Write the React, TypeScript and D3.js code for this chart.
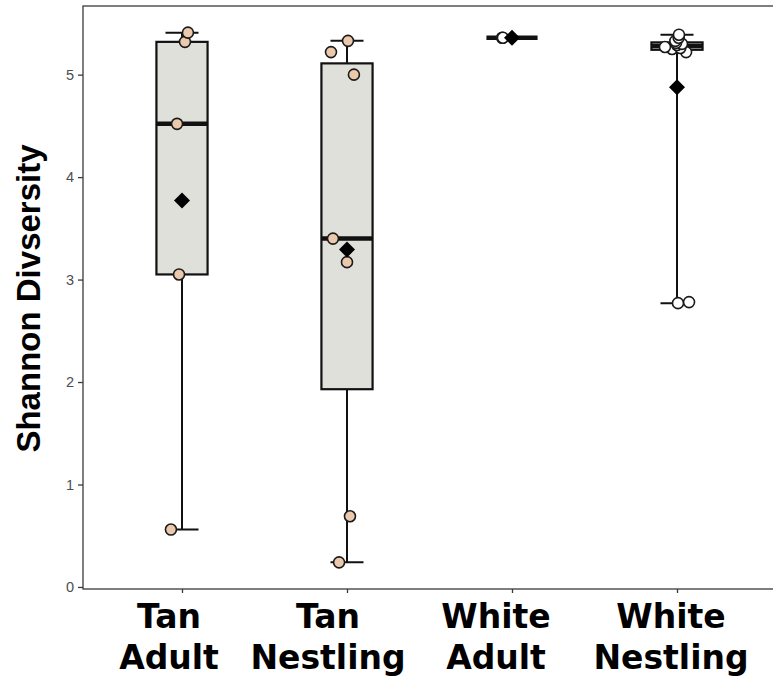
import { useEffect, useRef } from 'react';
import * as d3 from 'd3';

const categories = ['Tan Adult', 'Tan Nestling', 'White Adult', 'White Nestling'];
const labelLines = [['Tan', 'Adult'], ['Tan', 'Nestling'], ['White', 'Adult'], ['White', 'Nestling']];
const groupType = ['tan', 'tan', 'white', 'white'];

const tanAdult = [0.56, 3.05, 4.52, 5.32, 5.41];
const tanAdultJitter = [-0.067, -0.018, -0.03, 0.018, 0.036];
const tanNestling = [0.24, 0.69, 3.17, 3.4, 5.0, 5.22, 5.33];
const tanNestlingJitter = [-0.048, 0.018, 0.0, -0.085, 0.042, -0.097, 0.006];
const whiteAdult = [5.36, 5.36];
const whiteAdultJitter = [-0.06, -0.055];
const whiteNestling = [2.77, 2.78, 5.22, 5.25, 5.26, 5.27, 5.29, 5.3, 5.31, 5.33, 5.36, 5.39];
const whiteNestlingJitter = [0.006, 0.073, 0.055, -0.03, 0.02, -0.073, 0.0, 0.03, -0.006, -0.01, 0.01, 0.012];

const yTicks = [0, 1, 2, 3, 4, 5];

const groups = [tanAdult, tanNestling, whiteAdult, whiteNestling];
const jitters = [tanAdultJitter, tanNestlingJitter, whiteAdultJitter, whiteNestlingJitter];

// labels sit a little left of their ticks in the original
const labelShift = [-13, -19, -16, -6];

const App = () => {
  const svgRef = useRef<SVGSVGElement | null>(null);

  useEffect(() => {
    const svg = d3.select(svgRef.current);
    svg.selectAll('*').remove();

    const left = 83;
    const top = 6;
    const bottom = 589;

    const x = d3.scalePoint<string>().domain(categories).range([left, 776]).padding(0.6);
    const step = x.step();
    const y = d3.scaleLinear().domain([-0.02, 5.67]).range([bottom, top]);

    // panel border / axes
    svg.append('rect')
      .attr('x', left).attr('y', top)
      .attr('width', 776 - left).attr('height', bottom - top)
      .attr('fill', 'white')
      .attr('stroke', '#3a3a3a')
      .attr('stroke-width', 1.3);

    const yAxis = svg.append('g')
      .attr('transform', `translate(${left},0)`)
      .call(d3.axisLeft(y).tickValues(yTicks).tickSize(5).tickPadding(4).tickFormat(d3.format('d')));
    yAxis.select('.domain').remove();
    yAxis.selectAll('line').attr('stroke', '#3a3a3a').attr('stroke-width', 1.3);
    yAxis.selectAll('text')
      .attr('fill', '#4d4d4d')
      .style('font-family', '"Liberation Sans", Arial, sans-serif')
      .style('font-size', '14.5px');

    const xAxis = svg.append('g')
      .attr('transform', `translate(0,${bottom})`)
      .call(d3.axisBottom(x).tickSize(4).tickFormat(() => ''));
    xAxis.select('.domain').remove();
    xAxis.selectAll('line').attr('stroke', '#3a3a3a').attr('stroke-width', 1.3);

    // x labels
    categories.forEach((c, i) => {
      const lx = x(c)! + labelShift[i];
      const t = svg.append('text')
        .attr('text-anchor', 'middle')
        .style('font-family', '"DejaVu Sans", sans-serif')
        .style('font-weight', 'bold')
        .style('font-size', '33px')
        .attr('fill', '#000');
      t.append('tspan').attr('x', lx).attr('y', 628).text(labelLines[i][0]);
      t.append('tspan').attr('x', lx).attr('y', 669).text(labelLines[i][1]);
    });

    // y label
    svg.append('text')
      .attr('transform', `translate(40,${(top + bottom) / 2 + 1}) rotate(-90)`)
      .attr('text-anchor', 'middle')
      .style('font-family', '"Liberation Sans", Arial, sans-serif')
      .style('font-weight', 'bold')
      .style('font-size', '33px')
      .attr('fill', '#000')
      .text('Shannon Divsersity');

    const boxW = step * 0.31;
    const capW = step * 0.2;

    groups.forEach((vals, i) => {
      const cx = x(categories[i])!;
      const s = vals.slice().sort(d3.ascending);
      const q1 = d3.quantile(s, 0.25)!;
      const med = d3.quantile(s, 0.5)!;
      const q3 = d3.quantile(s, 0.75)!;
      const lo = d3.min(s)!;
      const hi = d3.max(s)!;
      const g = svg.append('g');

      // whiskers
      g.append('line').attr('x1', cx).attr('x2', cx).attr('y1', y(hi)).attr('y2', y(q3))
        .attr('stroke', '#111').attr('stroke-width', 2);
      g.append('line').attr('x1', cx).attr('x2', cx).attr('y1', y(q1)).attr('y2', y(lo))
        .attr('stroke', '#111').attr('stroke-width', 2);
      [hi, lo].forEach(v => {
        g.append('line').attr('x1', cx - capW / 2).attr('x2', cx + capW / 2)
          .attr('y1', y(v)).attr('y2', y(v))
          .attr('stroke', '#111').attr('stroke-width', 2);
      });

      // box
      g.append('rect')
        .attr('x', cx - boxW / 2).attr('width', boxW)
        .attr('y', y(q3)).attr('height', Math.max(0, y(q1) - y(q3)))
        .attr('fill', '#e0e0da')
        .attr('stroke', '#111').attr('stroke-width', 2.2);
      g.append('line').attr('x1', cx - boxW / 2).attr('x2', cx + boxW / 2)
        .attr('y1', y(med)).attr('y2', y(med))
        .attr('stroke', '#111').attr('stroke-width', 4.5);

      // points
      const fill = groupType[i] === 'tan' ? '#ebc9ad' : '#ffffff';
      vals.forEach((v, j) => {
        g.append('circle')
          .attr('cx', cx + jitters[i][j] * step)
          .attr('cy', y(v))
          .attr('r', 5.5)
          .attr('fill', fill)
          .attr('stroke', '#1a1a1a')
          .attr('stroke-width', 1.6);
      });

      // mean diamond
      const m = d3.mean(vals)!;
      const r = 8;
      const my = y(m);
      g.append('path')
        .attr('d', `M${cx},${my - r}L${cx + r},${my}L${cx},${my + r}L${cx - r},${my}Z`)
        .attr('fill', '#000');
    });
  }, []);

  return (
    <div style={{ position: 'absolute', left: 0, top: 0, width: 773, height: 681, background: 'white' }}>
      <svg ref={svgRef} width={773} height={681}></svg>
    </div>
  );
};

export default App;
